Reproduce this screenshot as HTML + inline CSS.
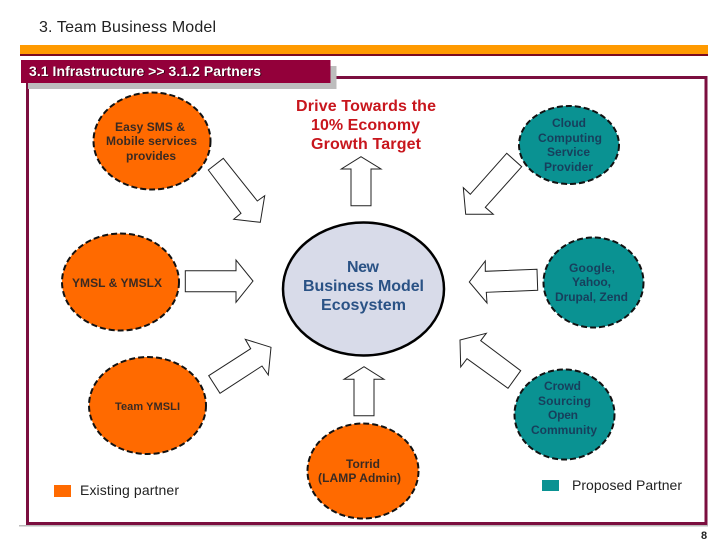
<!DOCTYPE html>
<html>
<head>
<meta charset="utf-8">
<style>
html,body{margin:0;padding:0;background:#fff;width:728px;height:546px;overflow:hidden}
svg{display:block}
text{font-family:"Liberation Sans",sans-serif}
.n{font-size:12px;font-weight:bold;fill:#3a2a22}
.t{font-size:12px;font-weight:bold;fill:#173f5c}
.c{font-size:16px;font-weight:bold;fill:#2a5285}
.r{font-size:16px;font-weight:bold;fill:#c8161d}
.l{font-size:14px;fill:#222}
.a{fill:#fff;stroke:#222;stroke-width:1}
.o{fill:#ff6a00;stroke:#111;stroke-width:2;stroke-dasharray:6 3}
.g{fill:#0a9292;stroke:#111;stroke-width:2;stroke-dasharray:6 3}
</style>
</head>
<body>
<svg width="728" height="546" viewBox="0 0 728 546" xmlns="http://www.w3.org/2000/svg">
<rect width="728" height="546" fill="#fff"/>
<text x="39" y="32" font-size="16" fill="#222" textLength="177" lengthAdjust="spacing">3. Team Business Model</text>
<rect x="20" y="45" width="688" height="9" fill="#ff9a00"/>
<rect x="20" y="54" width="688" height="2" fill="#7a0a20"/>

<rect x="19" y="525" width="689" height="1.5" fill="#bbb"/>
<rect x="27.5" y="77.5" width="678.5" height="446" fill="#fff" stroke="#7b0e3f" stroke-width="3"/>
<rect x="28" y="66" width="308.5" height="23" fill="#bdbdbd"/>
<rect x="21" y="60" width="309.5" height="23" fill="#93003a"/>
<text x="30" y="76.5" font-size="14" font-weight="bold" fill="#3a0016" textLength="232" lengthAdjust="spacing">3.1 Infrastructure &gt;&gt; 3.1.2 Partners</text>
<text x="29" y="76" font-size="14" font-weight="bold" fill="#fff" textLength="232" lengthAdjust="spacing">3.1 Infrastructure &gt;&gt; 3.1.2 Partners</text>

<polygon class="a" points="208.3,170 223.3,158.3 257.3,201 264.7,195.7 260.3,222.3 233.7,219.3 241,213.3"/>
<polygon class="a" points="351,205.7 351,169 341.3,169 361,156.7 381,169 371,169 371,205.7"/>
<polygon class="a" points="506.7,153.3 521.7,166.7 485.3,207.3 493.3,214.3 465.7,214.3 463.3,187.7 470.3,194.3"/>
<polygon class="a" points="185.3,270.7 236,270.7 236,260 253,281 236,302.3 236,291.7 185.3,291.7"/>
<polygon class="a" points="208.7,375.7 250.7,348.7 245.3,339.3 271,347.3 268.3,375 262,366 220,393.3"/>
<polygon class="a" points="354,415.7 354,379.3 344,379.3 364,366.7 384,379.3 374,379.3 374,415.7"/>
<polygon class="a" points="537,269.3 485.3,271.3 485.3,261 469.3,282 487,303 486.3,292.3 537.7,290.3"/>
<polygon class="a" points="520.7,370.7 480.7,340.7 486.3,333.3 460,340 460.7,367 467,358.7 508,388.3"/>

<ellipse class="o" cx="152" cy="141" rx="58.5" ry="48.5"/>
<ellipse class="o" cx="120.5" cy="282" rx="58.5" ry="48.5"/>
<ellipse class="o" cx="147.5" cy="405.5" rx="58.5" ry="48.5"/>
<ellipse class="o" cx="363" cy="471" rx="55.5" ry="47.5"/>
<ellipse cx="363.5" cy="289" rx="80.5" ry="66.5" fill="#d8dbe9" stroke="#000" stroke-width="2.5"/>
<ellipse class="g" cx="569" cy="145" rx="50" ry="39"/>
<ellipse class="g" cx="593.5" cy="282.5" rx="50" ry="45"/>
<ellipse class="g" cx="564.5" cy="414.5" rx="50" ry="45"/>

<text class="n" x="115" y="131" textLength="70" lengthAdjust="spacing">Easy SMS &amp;</text>
<text class="n" x="106" y="145" textLength="91" lengthAdjust="spacing">Mobile services</text>
<text class="n" x="126" y="160" textLength="50" lengthAdjust="spacing">provides</text>
<text class="n" x="72" y="287" textLength="90" lengthAdjust="spacing">YMSL &amp; YMSLX</text>
<text class="n" style="font-size:11px" x="115" y="410" textLength="65" lengthAdjust="spacing">Team YMSLI</text>
<text class="n" x="346" y="468" textLength="34" lengthAdjust="spacing">Torrid</text>
<text class="n" x="318" y="482" textLength="83" lengthAdjust="spacing">(LAMP Admin)</text>

<text class="t" x="552" y="127" textLength="34" lengthAdjust="spacing">Cloud</text>
<text class="t" x="538" y="142" textLength="64" lengthAdjust="spacing">Computing</text>
<text class="t" x="547" y="156" textLength="43" lengthAdjust="spacing">Service</text>
<text class="t" x="544" y="171" textLength="49" lengthAdjust="spacing">Provider</text>
<text class="t" x="569" y="272" textLength="46" lengthAdjust="spacing">Google,</text>
<text class="t" x="572" y="286" textLength="39" lengthAdjust="spacing">Yahoo,</text>
<text class="t" x="555" y="301" textLength="73" lengthAdjust="spacing">Drupal, Zend</text>
<text class="t" x="544" y="390" textLength="37" lengthAdjust="spacing">Crowd</text>
<text class="t" x="538" y="405" textLength="53" lengthAdjust="spacing">Sourcing</text>
<text class="t" x="548" y="419" textLength="30" lengthAdjust="spacing">Open</text>
<text class="t" x="531" y="434" textLength="66" lengthAdjust="spacing">Community</text>

<text class="c" x="347" y="272" textLength="32" lengthAdjust="spacing">New</text>
<text class="c" x="303" y="291" textLength="121" lengthAdjust="spacing">Business Model</text>
<text class="c" x="321" y="310" textLength="85" lengthAdjust="spacing">Ecosystem</text>

<text class="r" x="296" y="111" textLength="140" lengthAdjust="spacing">Drive Towards the</text>
<text class="r" x="311" y="130" textLength="109" lengthAdjust="spacing">10% Economy</text>
<text class="r" x="311" y="149" textLength="110" lengthAdjust="spacing">Growth Target</text>

<rect x="54" y="485" width="17" height="12" fill="#ff6a00"/>
<text class="l" x="80" y="495" textLength="99" lengthAdjust="spacing">Existing partner</text>
<rect x="542" y="480" width="17" height="11" fill="#0a9292"/>
<text class="l" x="572" y="490" textLength="110" lengthAdjust="spacing">Proposed Partner</text>
<text x="701" y="539" font-size="11" font-weight="bold" fill="#222">8</text>
</svg>
</body>
</html>
